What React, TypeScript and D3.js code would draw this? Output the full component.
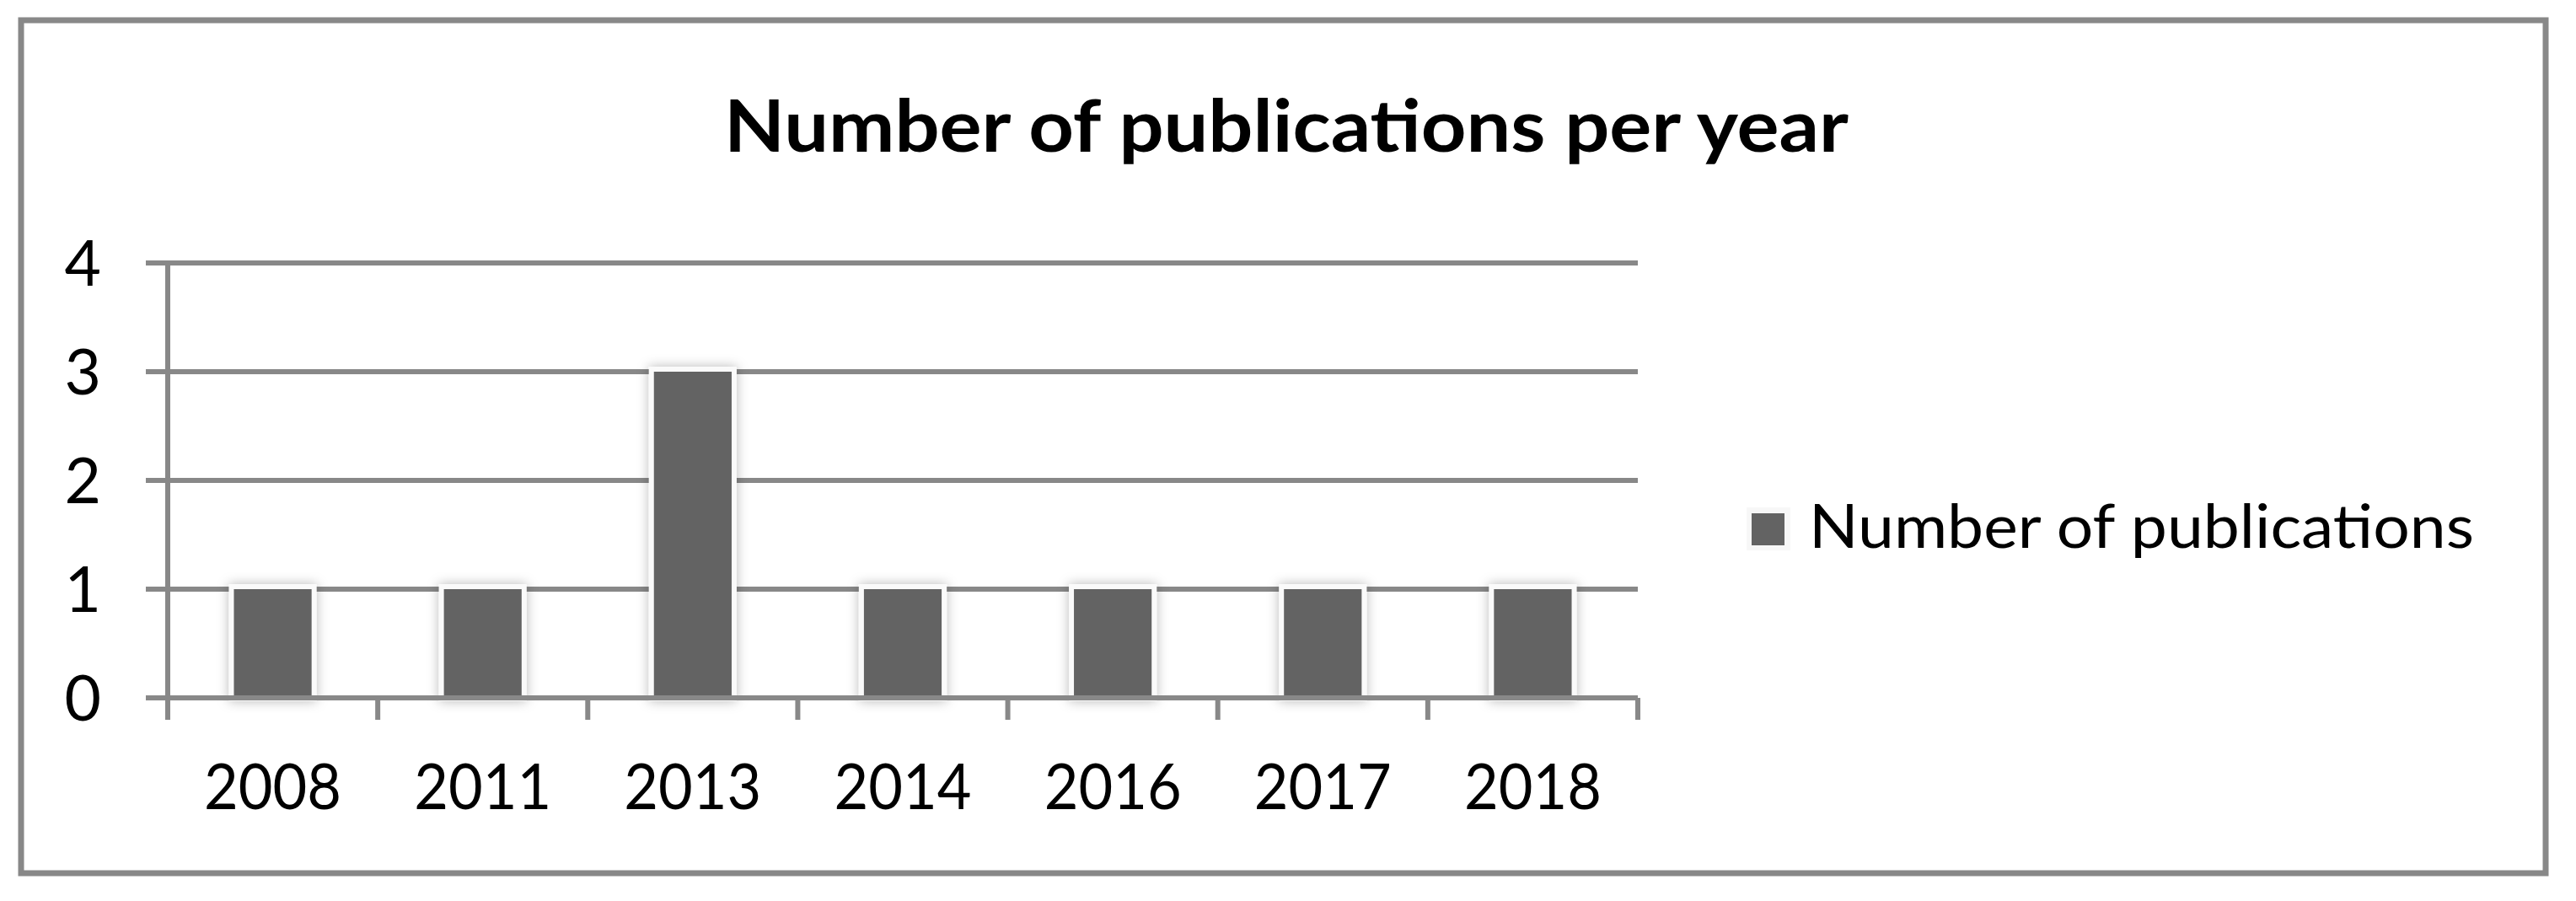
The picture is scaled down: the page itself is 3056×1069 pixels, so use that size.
import React, { useEffect, useRef } from 'react';
import * as d3 from 'd3';

const years = ['2008', '2011', '2013', '2014', '2016', '2017', '2018'];
const publications = [1, 1, 3, 1, 1, 1, 1];
const yTicks = [0, 1, 2, 3, 4];
const titleText = 'Number of publications per year';
const seriesName = 'Number of publications';

const W = 3056;
const H = 1069;
const FONT = 'Lato, "Open Sans", sans-serif';
const GRID = '#888888';
const BAR = '#636363';

const App = () => {
  const svgRef = useRef(null);

  useEffect(() => {
    const svg = d3.select(svgRef.current);
    svg.selectAll('*').remove();

    const defs = svg.append('defs');
    const f = defs.append('filter')
      .attr('id', 'shadow')
      .attr('x', '-30%').attr('y', '-10%')
      .attr('width', '160%').attr('height', '120%');
    f.append('feDropShadow')
      .attr('dx', 0).attr('dy', 0)
      .attr('stdDeviation', 7)
      .attr('flood-color', '#000')
      .attr('flood-opacity', 0.28);

    svg.append('rect')
      .attr('width', W).attr('height', H)
      .attr('fill', '#fff');

    // outer chart border
    svg.append('rect')
      .attr('x', 25).attr('y', 24)
      .attr('width', 2995).attr('height', 1012)
      .attr('fill', 'none')
      .attr('stroke', GRID)
      .attr('stroke-width', 7);

    // title
    svg.append('text')
      .text(titleText)
      .attr('x', 1526).attr('y', 180)
      .attr('text-anchor', 'middle')
      .attr('font-family', FONT)
      .attr('font-weight', 700)
      .attr('font-size', 86)
      .attr('textLength', 1334)
      .attr('lengthAdjust', 'spacingAndGlyphs')
      .attr('fill', '#000');

    const left = 199, right = 1943, top = 312, bottom = 828;

    const x = d3.scaleBand().domain(years).range([left, right])
      .paddingInner(0.63).paddingOuter(0.315);
    const y = d3.scaleLinear().domain([0, 4]).range([bottom, top]);

    // gridlines + y ticks
    const gy = svg.append('g');
    gy.selectAll('line')
      .data(yTicks)
      .join('line')
      .attr('x1', left - 26).attr('x2', right)
      .attr('y1', d => y(d)).attr('y2', d => y(d))
      .attr('stroke', GRID)
      .attr('stroke-width', 6);
    gy.selectAll('text')
      .data(yTicks)
      .join('text')
      .text(d => d)
      .attr('x', 120)
      .attr('y', d => y(d) + 27)
      .attr('text-anchor', 'end')
      .attr('font-family', FONT)
      .attr('font-size', 75)
      .attr('fill', '#000');

    // bars
    const gb = svg.append('g');
    const bars = gb.selectAll('g')
      .data(years.map((yr, i) => ({ yr, v: publications[i] })))
      .join('g');
    bars.append('rect')
      .attr('x', d => x(d.yr) - 6)
      .attr('y', d => y(d.v) - 6)
      .attr('width', x.bandwidth() + 12)
      .attr('height', d => y(0) - y(d.v) + 10)
      .attr('fill', '#fafafa')
      .attr('filter', 'url(#shadow)');
    bars.append('rect')
      .attr('x', d => x(d.yr))
      .attr('y', d => y(d.v))
      .attr('width', x.bandwidth())
      .attr('height', d => y(0) - y(d.v))
      .attr('fill', BAR);

    // axes on top
    svg.append('line')
      .attr('x1', left).attr('x2', left)
      .attr('y1', top).attr('y2', bottom)
      .attr('stroke', GRID).attr('stroke-width', 6);
    svg.append('line')
      .attr('x1', left - 26).attr('x2', right)
      .attr('y1', bottom).attr('y2', bottom)
      .attr('stroke', GRID).attr('stroke-width', 6);

    const edges = years.map(yr => x(yr) - (x.step() - x.bandwidth()) / 2);
    edges.push(right);
    svg.append('g').selectAll('line')
      .data(edges)
      .join('line')
      .attr('x1', d => d).attr('x2', d => d)
      .attr('y1', bottom).attr('y2', bottom + 26)
      .attr('stroke', GRID).attr('stroke-width', 6);

    svg.append('g').selectAll('text')
      .data(years)
      .join('text')
      .text(d => d)
      .attr('x', d => x(d) + x.bandwidth() / 2)
      .attr('y', 960)
      .attr('text-anchor', 'middle')
      .attr('font-family', FONT)
      .attr('font-size', 75)
      .attr('textLength', 163)
      .attr('lengthAdjust', 'spacingAndGlyphs')
      .attr('fill', '#000');

    // legend
    const lg = svg.append('g');
    lg.append('rect')
      .attr('x', 2072).attr('y', 602)
      .attr('width', 52).attr('height', 51)
      .attr('fill', '#f7f7f7');
    lg.append('rect')
      .attr('x', 2078).attr('y', 609)
      .attr('width', 39).attr('height', 38)
      .attr('fill', BAR);
    lg.append('text')
      .text(seriesName)
      .attr('x', 2146).attr('y', 650)
      .attr('font-family', FONT)
      .attr('font-size', 71)
      .attr('textLength', 789)
      .attr('lengthAdjust', 'spacingAndGlyphs')
      .attr('fill', '#000');
  }, []);

  return (
    <svg
      ref={svgRef}
      width={W}
      height={H}
      viewBox={`0 0 ${W} ${H}`}
      style={{ position: 'absolute', left: 0, top: 0, display: 'block' }}
    />
  );
};

export default App;
